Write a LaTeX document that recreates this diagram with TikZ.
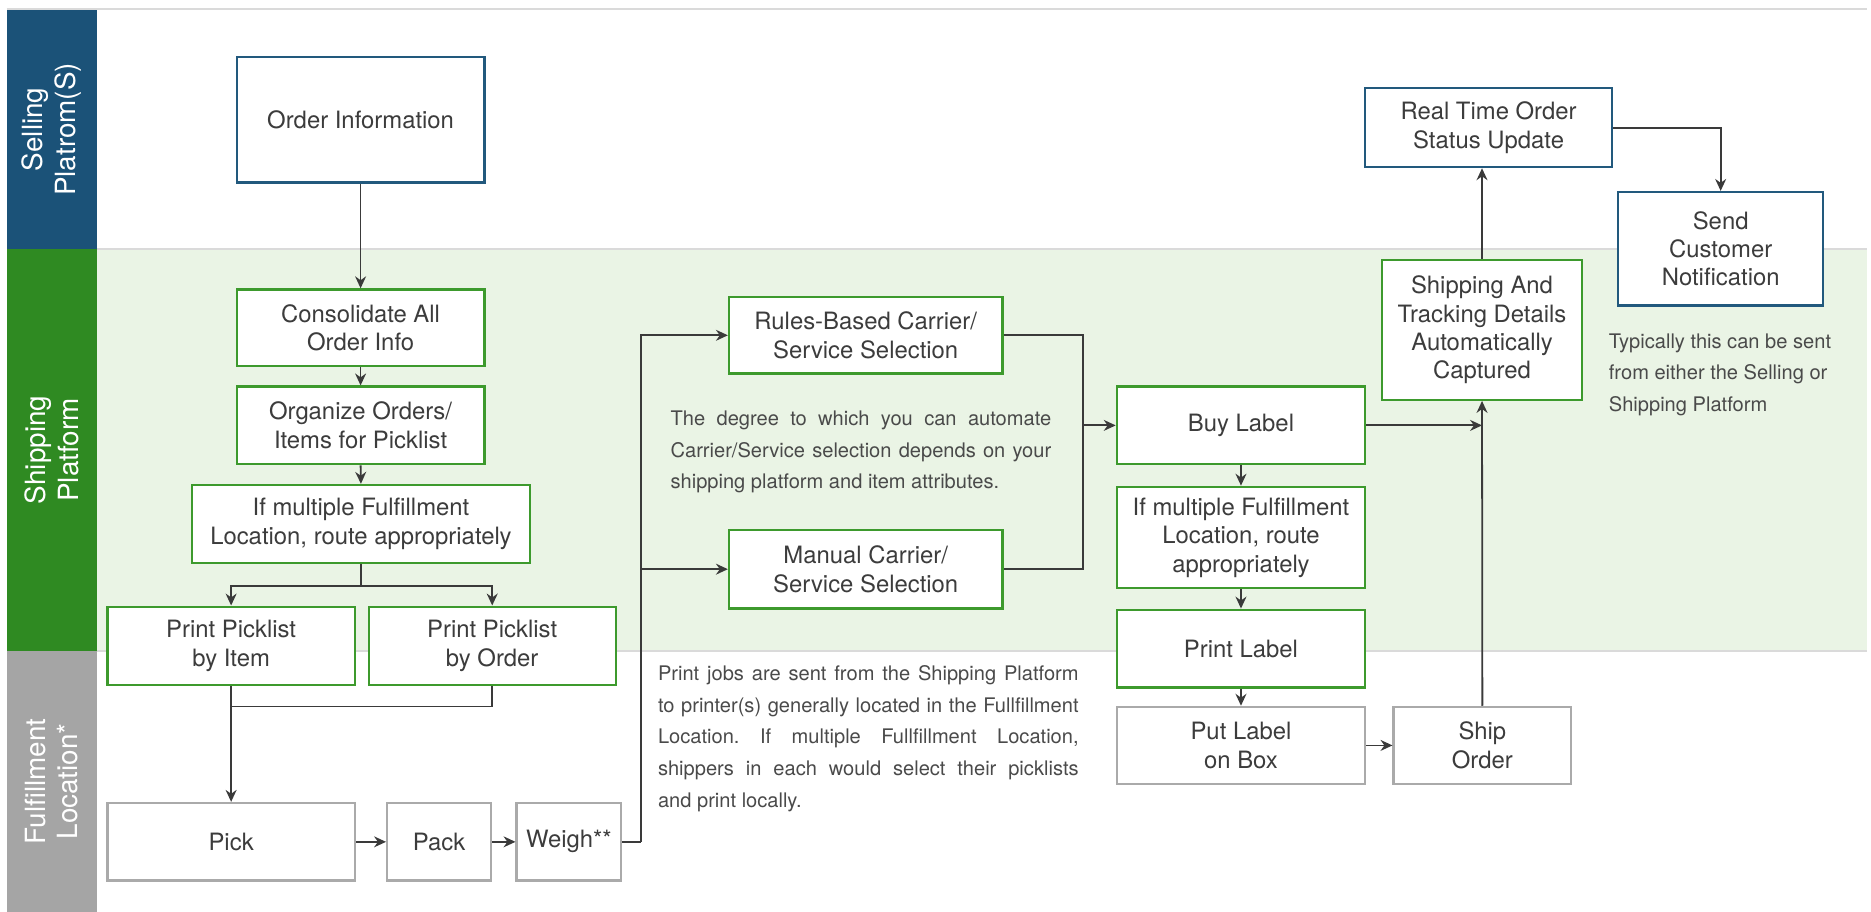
\documentclass[tikz,border=0pt]{standalone}
\usepackage{fontspec}
\setmainfont{TeX Gyre Heros}
\usetikzlibrary{arrows.meta}
\definecolor{selblue}{HTML}{1B5278}
\definecolor{shipgreen}{HTML}{2F8A22}
\definecolor{fulgray}{HTML}{A5A5A5}
\definecolor{bandgreen}{HTML}{EAF4E5}
\definecolor{boxblue}{HTML}{22597D}
\definecolor{boxgreen}{HTML}{3D9A2D}
\definecolor{boxgray}{HTML}{AAAAAA}
\definecolor{linkgray}{HTML}{3A3A3A}
\definecolor{boxtext}{HTML}{3C3C3C}
\definecolor{notegray}{HTML}{4A4A4A}
\definecolor{rulegray}{HTML}{DADADA}
\newcommand\boxfnt{\fontsize{12}{14.3}\selectfont}
\newcommand\notefnt{\fontsize{10.1}{15.9}\selectfont}
\newcommand\lanefnt{\fontsize{14}{16.5}\selectfont}
\newcommand\spreadline[2]{\makebox[#1][s]{#2}}
\frenchspacing

\begin{document}
\begin{tikzpicture}[x=0.6pt,y=-0.6pt,
  flowbox/.style={rectangle,draw,line width=1.2pt,fill=white,text=boxtext,font=\boxfnt,align=center,inner sep=2pt},
  bluebox/.style={flowbox,draw=boxblue},
  greenbox/.style={flowbox,draw=boxgreen},
  graybox/.style={flowbox,draw=boxgray},
  wh/.style 2 args={minimum width=#1*0.6pt,minimum height=#2*0.6pt},
  link/.style={draw=linkgray,line width=0.9pt},
  arr/.style={link,-{Stealth[length=6pt,width=5.5pt]}},
  note/.style={font=\notefnt,text=notegray,inner sep=0pt,align=left},
  lanetext/.style={font=\lanefnt,text=white,rotate=90,align=center},
  lanerule/.style={draw=rulegray,line width=0.8pt}]
\useasboundingbox (0,0) rectangle (1568,764);

% swim lanes
\draw[lanerule] (5.5,7.5) -- (1565,7.5);
\fill[bandgreen] (81,208.5) rectangle (1565,545.6);
\draw[lanerule] (81,208.5) -- (1565,208.5);
\draw[lanerule] (81,545.6) -- (1565,545.6);
\foreach \ya/\yb/\col/\nm/\txt in {8.4/208.5/selblue/sell/{Selling\\Platrom(S)},
    208.5/545.6/shipgreen/shipping/{Shipping\\Platform},
    545.6/764/fulgray/fulf/{Fulfillment\\Location*}} {
  \fill[\col] (5.5,\ya) rectangle (81,\yb);
  \node[lanetext] (lane\nm) at (43.25,{(\ya+\yb)/2}) {\txt};
}

% left column
\node[bluebox,wh={207.5}{105}] (ordinfo) at (302.2,100.5) {Order Information};
\node[greenbox,wh={207.5}{64}] (consol) at (302.2,274.6) {Consolidate All\\Order Info};
\node[greenbox,wh={207.5}{65}] (organize) at (302.2,356.5) {Organize Orders/\\Items for Picklist};
\node[greenbox,wh={283}{65.5}] (routeL) at (302.5,439.2) {If multiple Fulfillment\\Location, route appropriately};
\node[greenbox,wh={207.5}{65.5}] (pickitem) at (193.7,541.2) {Print Picklist\\by Item};
\node[greenbox,wh={207}{65.5}] (pickorder) at (412.5,541.2) {Print Picklist\\by Order};
\node[graybox,wh={207.5}{65}] (pick) at (193.7,705.5) {Pick};
\node[graybox,wh={87}{65}] (pack) at (368,705.5) {Pack};
\node[graybox,wh={87.6}{65}] (weigh) at (476.8,705.5) {Weigh**};

% carrier selection
\node[greenbox,wh={229}{64}] (rules) at (725.5,281) {Rules-Based Carrier/\\Service Selection};
\node[greenbox,wh={229}{66}] (manual) at (725.5,477) {Manual Carrier/\\Service Selection};

% label column
\node[greenbox,wh={208}{65}] (buy) at (1040,356.5) {Buy Label};
\node[greenbox,wh={208}{85}] (routeR) at (1040,450.5) {If multiple Fulfillment\\Location, route\\appropriately};
\node[greenbox,wh={208}{65}] (printlbl) at (1040,543.5) {Print Label};
\node[graybox,wh={208}{64.5}] (putlbl) at (1040,624.7) {Put Label\\on Box};
\node[graybox,wh={148.7}{64.5}] (ship) at (1242.3,624.7) {Ship\\Order};

% status
\node[greenbox,wh={168}{117}] (track) at (1242,276.5) {Shipping And\\Tracking Details\\Automatically\\Captured};
\node[bluebox,wh={207}{66}] (realtime) at (1247.5,107) {Real Time Order\\Status Update};
\node[bluebox,wh={172}{95}] (notify) at (1442,208.5) {Send\\Customer\\Notification};

% notes
\node[note] (degree) at (721.5,379) {\spreadline{191.4pt}{The degree to which you can automate}\\
  \spreadline{191.4pt}{Carrier/Service selection depends on your}\\
  shipping platform and item attributes.};
\node[note] (printjobs) at (727.7,619) {\spreadline{211.5pt}{Print jobs are sent from the Shipping Platform}\\
  \spreadline{211.5pt}{to printer(s) generally located in the Fullfillment}\\
  \spreadline{211.5pt}{Location. If multiple Fullfillment Location,}\\
  \spreadline{211.5pt}{shippers in each would select their picklists}\\
  and print locally.};
\node[note,anchor=west] (typically) at (1348,314) {Typically this can be sent\\from either the Selling or\\Shipping Platform};

% connectors
\draw[arr] (ordinfo.south) -- (consol.north);
\draw[arr] (consol.south) -- (organize.north);
\draw[arr] (organize.south) -- (routeL.north);
\coordinate (split) at (302.5,491);
\draw[link] (routeL.south) -- (split);
\draw[arr] (split) -| (pickitem.north);
\draw[arr] (split) -| (pickorder.north);
\coordinate (join) at (193.7,592);
\draw[link] (pickorder.south) |- (join);
\draw[arr] (pickitem.south) -- (pick.north);
\draw[arr] (pick) -- (pack);
\draw[arr] (pack) -- (weigh);
\coordinate (fork) at (537,705.5);
\draw[link] (weigh.east) -- (fork);
\draw[arr] (fork) |- (rules.west);
\draw[arr] (fork |- manual.west) -- (manual.west);
\coordinate (merge) at (907.6,281);
\draw[link] (rules.east) -- (merge) |- (manual.east);
\draw[arr] (merge |- buy.west) -- (buy.west);
\draw[arr] (buy.south) -- (routeR.north);
\draw[arr] (routeR.south) -- (printlbl.north);
\draw[arr] (printlbl.south) -- (putlbl.north);
\draw[arr] (putlbl) -- (ship);
\draw[arr] (ship.north) -- (track.south);
\draw[arr] (buy.east) -- (buy.east -| track.south);
\draw[arr] (track.north) -- (track.north |- realtime.south);
\draw[arr] (realtime.east) -| (notify.north);
\end{tikzpicture}
\end{document}
